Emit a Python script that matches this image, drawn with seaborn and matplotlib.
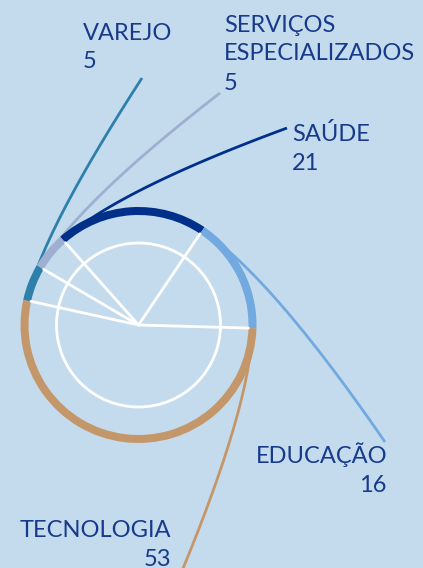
import numpy as np
import matplotlib
matplotlib.use("Agg")
import matplotlib.pyplot as plt
from matplotlib.patches import Circle
import seaborn as sns

# Dados (ordem horária a partir do topo-esquerdo)
categorias = ["SAÚDE", "EDUCAÇÃO", "TECNOLOGIA", "VAREJO", "SERVIÇOS\nESPECIALIZADOS"]
valores = [21, 16, 53, 5, 5]
cores = ["#00308a", "#72a9df", "#c4976a", "#2f7fab", "#9eafcf"]

FUNDO = "#c4dbee"
TEXTO = "#173a8a"

# Geometria em pixels (y cresce para baixo, convertido depois)
ALTURA = 568
CX, CY = 138.5, 325
R_ANEL = 118
LARG_ANEL = 8
R_INTERNO = 82
INICIO = 131.6

# Ponto final da linha guia e posição do texto de cada rótulo
rotulos = {
    "SAÚDE": dict(fim=(287, 128), x=292, base=141, ha="left", k=0.30),
    "EDUCAÇÃO": dict(fim=(385, 442), x=387, base=463, ha="right", k=0.30),
    "TECNOLOGIA": dict(fim=(174, 590), x=171, base=537, ha="right", k=0.30),
    "VAREJO": dict(fim=(142, 78), x=83, base=39.5, ha="left", k=0.28),
    "SERVIÇOS\nESPECIALIZADOS": dict(fim=(220, 93), x=224, base=31.5, ha="left", k=0.30),
}
PASSO = 29.0


def Y(y):
    return ALTURA - y


sns.set_theme(style="white", rc={"figure.facecolor": FUNDO, "axes.facecolor": FUNDO})
plt.rcParams["font.family"] = ["Lato", "DejaVu Sans"]

fig = plt.figure(figsize=(4.23, 5.68), dpi=100)
ax = fig.add_axes([0, 0, 1, 1])

centro = np.array([CX, Y(CY)])
total = sum(valores)
inicios = INICIO - 360 * np.concatenate([[0], np.cumsum(valores)[:-1]]) / total

# linhas guia
r_meio = R_ANEL - LARG_ANEL / 2
t = np.linspace(0, 1, 100)[:, None]
for cat, cor, a in zip(categorias, cores, inicios):
    info = rotulos[cat]
    rad = np.deg2rad(a)
    p0 = centro + r_meio * np.array([np.cos(rad), np.sin(rad)])
    tang = np.array([np.sin(rad), -np.cos(rad)])
    p1 = np.array([info["fim"][0], Y(info["fim"][1])])
    ctrl = p0 + info["k"] * np.linalg.norm(p1 - p0) * tang
    curva = (1 - t) ** 2 * p0 + 2 * (1 - t) * t * ctrl + t ** 2 * p1
    ax.plot(curva[:, 0], curva[:, 1], color=cor, lw=2, solid_capstyle="butt", zorder=1)

# anel
ax.pie(valores, colors=cores, startangle=INICIO, counterclock=False,
       radius=R_ANEL, center=tuple(centro),
       wedgeprops=dict(width=LARG_ANEL, linewidth=0))

# círculo interno e raios
ax.add_patch(Circle(tuple(centro), R_INTERNO, fill=False, ec="white", lw=2, zorder=3))
for a in inicios:
    rad = np.deg2rad(a)
    fim = centro + (R_ANEL - LARG_ANEL) * np.array([np.cos(rad), np.sin(rad)])
    ax.plot([centro[0], fim[0]], [centro[1], fim[1]], color="white", lw=2, zorder=3)

# textos
for cat, v in zip(categorias, valores):
    info = rotulos[cat]
    linhas = cat.split("\n") + [str(v)]
    for i, linha in enumerate(linhas):
        ax.text(info["x"], Y(info["base"] + i * PASSO), linha, ha=info["ha"],
                va="baseline", fontsize=17, color=TEXTO, zorder=4)

ax.set_xlim(0, 423)
ax.set_ylim(0, ALTURA)
ax.set_aspect("equal")
ax.axis("off")

fig.savefig("out.png", dpi=100, facecolor=FUNDO)
